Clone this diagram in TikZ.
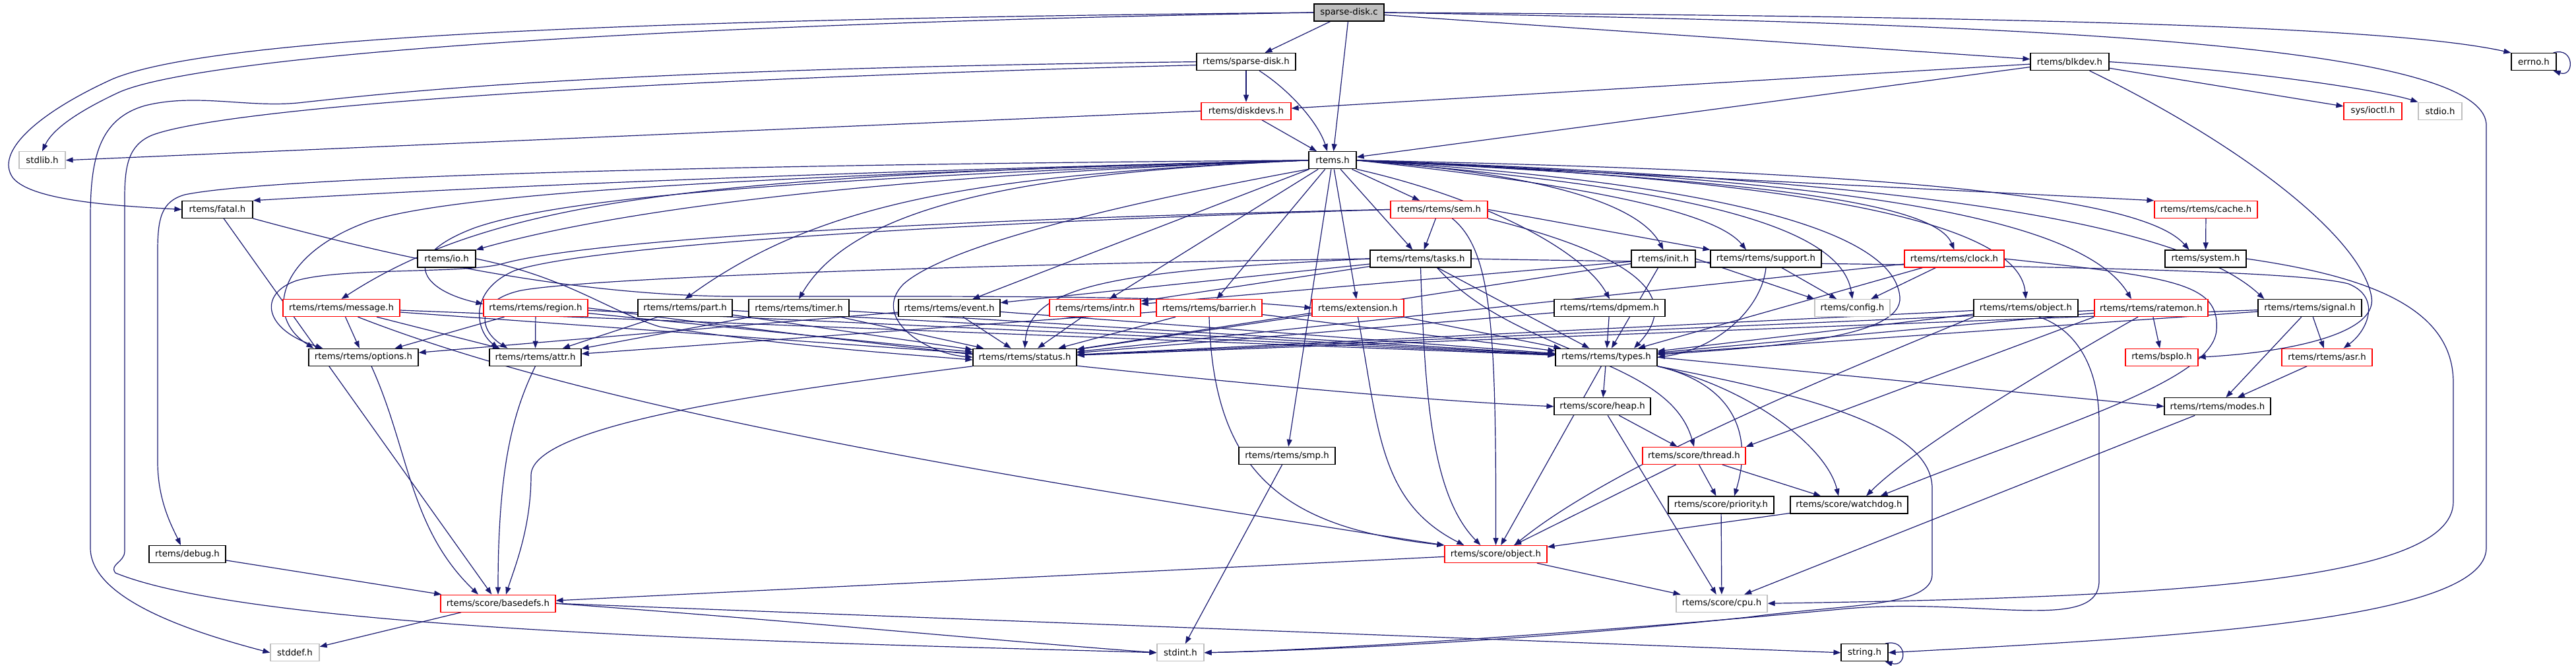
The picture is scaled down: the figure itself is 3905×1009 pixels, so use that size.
\documentclass[tikz,border=0pt]{standalone}
\usepackage{fontspec}
\setmainfont{DejaVu Sans}
\usetikzlibrary{arrows.meta}
\pgfdeclarelayer{background}
\pgfsetlayers{background,main}
\definecolor{edgecol}{HTML}{191970}
\definecolor{graybd}{HTML}{BFBFBF}
\begin{document}
\begin{tikzpicture}[x=1pt,y=-1pt,
  nbox/.style={draw=black, line width=1.2pt, fill=white, rectangle, minimum height=26pt, inner sep=0pt, font=\fontsize{13.3}{15}\selectfont},
  redbox/.style={nbox, draw=red},
  graybox/.style={nbox, draw=graybd},
  rootbox/.style={nbox, fill=graybd},
  edg/.style={draw=edgecol, line width=1.2pt, -{Triangle[length=11pt,width=8pt]}},
]
\useasboundingbox (0,0) rectangle (3905,1009);
% rank 0-4
\node[rootbox, minimum width=106pt] (c) at (2045,19) {sparse-disk.c};
\node[nbox, minimum width=150pt] (sdh) at (1889,93.6) {rtems/sparse-disk.h};
\node[nbox, minimum width=119pt] (blkdev) at (3137.5,93.6) {rtems/blkdev.h};
\node[nbox, minimum width=68pt] (errno) at (3841,93.6) {errno.h};
\node[redbox, minimum width=136pt] (diskdevs) at (1889,168.2) {rtems/diskdevs.h};
\node[redbox, minimum width=88pt] (ioctl) at (3597,168.2) {sys/ioctl.h};
\node[graybox, minimum width=66pt] (stdio) at (3699,168.2) {stdio.h};
\node[graybox, minimum width=70pt] (stdlib) at (64,242.8) {stdlib.h};
\node[nbox, minimum width=72pt] (rtems) at (2020,242.8) {rtems.h};
\node[nbox, minimum width=107pt] (fatal) at (329.5,317.4) {rtems/fatal.h};
\node[redbox, minimum width=147pt] (sem) at (2181.5,317.4) {rtems/rtems/sem.h};
\node[redbox, minimum width=156pt] (cache) at (3344,317.4) {rtems/rtems/cache.h};
% rank 5
\node[nbox, minimum width=88pt] (io) at (677,392) {rtems/io.h};
\node[nbox, minimum width=153pt] (tasks) at (2153.5,392) {rtems/rtems/tasks.h};
\node[nbox, minimum width=97pt] (init) at (2521.5,392) {rtems/init.h};
\node[nbox, minimum width=168pt] (support) at (2677,392) {rtems/rtems/support.h};
\node[redbox, minimum width=151pt] (clock) at (2962.5,392) {rtems/rtems/clock.h};
\node[nbox, minimum width=123pt] (system) at (3343.5,392) {rtems/system.h};
% rank 6
\node[redbox, minimum width=177pt] (message) at (517.5,466.6) {rtems/rtems/message.h};
\node[redbox, minimum width=158pt] (region) at (812,466.6) {rtems/rtems/region.h};
\node[nbox, minimum width=143pt] (part) at (1038.5,466.6) {rtems/rtems/part.h};
\node[nbox, minimum width=152pt] (timer) at (1211,466.6) {rtems/rtems/timer.h};
\node[nbox, minimum width=154pt] (event) at (1439,466.6) {rtems/rtems/event.h};
\node[redbox, minimum width=138pt] (intr) at (1660,466.6) {rtems/rtems/intr.h};
\node[redbox, minimum width=160pt] (barrier) at (1833,466.6) {rtems/rtems/barrier.h};
\node[redbox, minimum width=139pt] (extension) at (2058.5,466.6) {rtems/extension.h};
\node[nbox, minimum width=168pt] (dpmem) at (2440,466.6) {rtems/rtems/dpmem.h};
\node[graybox, minimum width=114pt] (config) at (2808,466.6) {rtems/config.h};
\node[nbox, minimum width=158pt] (robject) at (3071,466.6) {rtems/rtems/object.h};
\node[redbox, minimum width=172pt] (ratemon) at (3261,466.6) {rtems/rtems/ratemon.h};
\node[nbox, minimum width=157pt] (signal) at (3501.5,466.6) {rtems/rtems/signal.h};
% rank 7
\node[nbox, minimum width=166pt] (options) at (551,541.2) {rtems/rtems/options.h};
\node[nbox, minimum width=139pt] (attr) at (811.5,541.2) {rtems/rtems/attr.h};
\node[nbox, minimum width=157pt] (status) at (1553.5,541.2) {rtems/rtems/status.h};
\node[nbox, minimum width=154pt] (types) at (2435,541.2) {rtems/rtems/types.h};
\node[redbox, minimum width=110pt] (bspio) at (3277,541.2) {rtems/bspIo.h};
\node[redbox, minimum width=137pt] (asr) at (3527.5,541.2) {rtems/rtems/asr.h};
% rank 8-13
\node[nbox, minimum width=146pt] (heap) at (2429,615.8) {rtems/score/heap.h};
\node[nbox, minimum width=161pt] (modes) at (3361.5,615.8) {rtems/rtems/modes.h};
\node[nbox, minimum width=146pt] (smp) at (1951,690.4) {rtems/rtems/smp.h};
\node[redbox, minimum width=156pt] (thread) at (2568,690.4) {rtems/score/thread.h};
\node[nbox, minimum width=160pt] (priority) at (2609,765) {rtems/score/priority.h};
\node[nbox, minimum width=178pt] (watchdog) at (2803,765) {rtems/score/watchdog.h};
\node[nbox, minimum width=116pt] (debug) at (284,839.6) {rtems/debug.h};
\node[redbox, minimum width=155pt] (sobject) at (2267.5,839.6) {rtems/score/object.h};
\node[redbox, minimum width=174pt] (basedefs) at (755,914.2) {rtems/score/basedefs.h};
\node[graybox, minimum width=138pt] (cpu) at (2610,914.2) {rtems/score/cpu.h};
\node[graybox, minimum width=74pt] (stddef) at (447,988.8) {stddef.h};
\node[graybox, minimum width=71pt] (stdint) at (1789.5,988.8) {stdint.h};
\node[nbox, minimum width=71pt] (string) at (2826.5,988.8) {string.h};

\begin{pgfonlayer}{background}
% sparse-disk.c
\draw[edg] (c.west) .. controls (800,40) and (280,95) .. (180,140) .. controls (120,168) and (80,195) .. (stdlib.north);
\draw[edg] (c.west) .. controls (800,30) and (300,65) .. (170,120) .. controls (60,170) and (-10,230) .. (20,270) .. controls (50,305) and (180,312) .. (fatal.west);
\draw[edg] (c) -- (sdh);
\draw[edg] (c) -- (rtems);
\draw[edg] (c) -- (blkdev);
\draw[edg] (c.east) .. controls (3200,25) and (3650,45) .. (errno.north west);
\draw[edg] (c.east) .. controls (3000,35) and (3769,60) .. (3769,190) -- (3769,830) .. controls (3769,940) and (3300,965) .. (string.east);
% sparse-disk.h
\draw[edg] (sdh) -- (diskdevs);
\draw[edg] ([xshift=20pt]sdh.south) .. controls (1960,140) and (2000,190) .. ([xshift=-8pt]rtems.north);
\draw[edg] (sdh.west) .. controls (900,105) and (600,140) .. (460,155) .. controls (380,165) and (300,140) .. (220,160) .. controls (150,180) and (137,240) .. (137,330) -- (137,830) .. controls (137,910) and (300,960) .. (stddef.west);
\draw[edg] ([yshift=-5pt]sdh.west) .. controls (800,125) and (320,170) .. (230,205) .. controls (195,220) and (189,250) .. (189,300) -- (189,835) .. controls (189,852) and (165,855) .. (175,868) .. controls (400,960) and (1300,975) .. (stdint.west);
% blkdev
\draw[edg] (blkdev) -- (diskdevs);
\draw[edg] (blkdev) -- (rtems);
\draw[edg] (blkdev) -- (ioctl);
\draw[edg] (blkdev.east) .. controls (3450,110) and (3620,140) .. (stdio.north west);
\draw[edg] ([xshift=30pt]blkdev.south) .. controls (3400,220) and (3580,360) .. (3595,450) .. controls (3605,510) and (3450,535) .. (bspio.east);
% diskdevs
\draw[edg] (diskdevs) -- (rtems);
\draw[edg] (diskdevs.west) -- (stdlib.east);
% self loops
\draw[edg] ([xshift=-5pt]errno.north east) .. controls (3903,70) and (3903,118) .. ([xshift=-5pt]errno.south east);
\draw[edg] ([xshift=-5pt]string.north east) .. controls (2892,966) and (2892,1012) .. ([xshift=-5pt]string.south east);
% rtems.h
\draw[edg] (rtems.west) .. controls (1200,262) and (700,285) .. (fatal.north east);
\draw[edg] (rtems.west) .. controls (1000,250) and (400,270) .. (280,295) .. controls (245,305) and (239,330) .. (239,380) -- (239,700) .. controls (239,760) and (262,800) .. ([xshift=-10pt]debug.north);
\draw[edg] (rtems.west) .. controls (1500,260) and (1000,300) .. (io.north east);
\draw[edg] (rtems.west) .. controls (1100,265) and (760,295) .. (message.north);
\draw[edg] (rtems.west) .. controls (1200,270) and (850,300) .. (720,345) .. controls (600,390) and (640,440) .. ([yshift=6pt]region.west);
\draw[edg] (rtems.west) .. controls (1500,265) and (1250,300) .. (part.north);
\draw[edg] (rtems.west) .. controls (1600,260) and (1300,300) .. (timer.north);
\draw[edg] (rtems.west) .. controls (1200,265) and (700,290) .. (560,335) .. controls (420,385) and (400,480) .. ([xshift=8pt]options.north west);
\draw[edg] (rtems.south west) .. controls (1800,290) and (1450,360) .. (1370,430) .. controls (1320,480) and (1400,535) .. (status.west);
\draw[edg] (rtems) -- (event);
\draw[edg] (rtems) -- (intr);
\draw[edg] (rtems) -- (barrier);
\draw[edg] (rtems) -- (extension);
\draw[edg] (rtems) -- (smp);
\draw[edg] (rtems) -- (tasks);
\draw[edg] (rtems) -- (sem);
\draw[edg] (rtems.south east) .. controls (2250,300) and (2400,380) .. (dpmem.north);
\draw[edg] (rtems.east) .. controls (2300,260) and (2480,300) .. (init.north);
\draw[edg] (rtems.east) .. controls (2400,280) and (2600,320) .. ([xshift=-30pt]support.north);
\draw[edg] (rtems.east) .. controls (2500,280) and (2790,330) .. (config.north);
\draw[edg] (rtems.east) .. controls (2600,270) and (2930,300) .. (clock.north);
\draw[edg] (rtems.east) .. controls (2700,270) and (3060,330) .. (robject.north);
\draw[edg] (rtems.east) .. controls (2750,270) and (3150,320) .. ([xshift=-30pt]ratemon.north);
\draw[edg] (rtems.east) .. controls (2850,270) and (3300,330) .. ([xshift=10pt]signal.north west);
\draw[edg] (rtems.east) .. controls (2900,260) and (3250,300) .. ([xshift=-25pt]system.north);
\draw[edg] (rtems.east) -- (cache.north west);
\draw[edg] (rtems.east) .. controls (2500,270) and (2870,330) .. (2880,450) .. controls (2885,510) and (2700,525) .. ([yshift=4pt]types.east);
% fatal
\draw[edg] (fatal) -- (basedefs);
\draw[edg] (fatal.south east) .. controls (600,390) and (850,445) .. (1100,449) .. controls (1500,449) and (1800,447) .. (extension.west);
% sem
\draw[edg] (sem) -- (tasks);
\draw[edg] (sem.east) -- (support.north west);
\draw[edg] ([xshift=20pt]sem.south) .. controls (2262,380) and (2268,500) .. (sobject.north);
\draw[edg] (sem.south east) .. controls (2450,380) and (2560,440) .. ([xshift=42pt]types.north);
\draw[edg] (sem.west) .. controls (1500,330) and (900,360) .. (760,400) .. controls (700,415) and (520,405) .. (450,425) .. controls (390,445) and (400,500) .. ([xshift=22pt]options.north west);
\draw[edg] (sem.west) .. controls (1500,335) and (900,370) .. (780,410) .. controls (710,440) and (720,500) .. ([xshift=14pt]attr.north west);
% cache, io
\draw[edg] (cache) -- (system);
\draw[edg] (io.east) .. controls (860,420) and (920,470) .. (1000,495) .. controls (1200,525) and (1350,535) .. ([yshift=-4pt]status.west);
% tasks
\draw[edg] (tasks.west) .. controls (1500,400) and (900,420) .. (790,440) .. controls (720,455) and (725,500) .. ([xshift=28pt]attr.north west);
\draw[edg] (tasks) -- (event);
\draw[edg] (tasks) -- (intr);
\draw[edg] (tasks.west) .. controls (1700,410) and (1560,430) .. (status.north);
\draw[edg] (tasks) -- (types);
\draw[edg] (tasks.south) .. controls (2160,600) and (2170,750) .. ([xshift=55pt]sobject.north west);
\draw[edg] ([xshift=25pt]tasks.south) .. controls (2300,540) and (2530,540) .. (thread.north);
\draw[edg] (tasks.east) .. controls (2600,400) and (3450,400) .. (3560,430) .. controls (3610,450) and (3590,500) .. ([xshift=-44pt]asr.north east);
% init, support, clock, system
\draw[edg] (init) -- (intr);
\draw[edg] (init.east) -- (config.north west);
\draw[edg] (init) -- (types);
\draw[edg] (init) -- (status);
\draw[edg] (support) -- (config);
\draw[edg] (support.south) .. controls (2670,470) and (2600,530) .. (types.east);
\draw[edg] (clock) -- (config);
\draw[edg] (clock) -- (status);
\draw[edg] (clock) -- (types);
\draw[edg] (clock.east) .. controls (3300,420) and (3365,430) .. (3360,500) .. controls (3355,580) and (3100,650) .. ([xshift=-42pt]watchdog.north east);
\draw[edg] (system.east) .. controls (3600,420) and (3719,470) .. (3719,580) -- (3719,760) .. controls (3719,880) and (3300,905) .. (cpu.east);
% message, region, part, timer, event, intr
\draw[edg] (message) -- (options);
\draw[edg] (message) -- (attr);
\draw[edg] (message) -- (status);
\draw[edg] (message) -- (types);
\draw[edg] ([xshift=25pt]message.south) .. controls (900,620) and (1500,720) .. (sobject.north west);
\draw[edg] (region) -- (options);
\draw[edg] (region) -- (attr);
\draw[edg] (region) -- (status);
\draw[edg] (region) -- (types);
\draw[edg] (region.east) .. controls (1300,520) and (2000,600) .. (heap.west);
\draw[edg] (part) -- (attr);
\draw[edg] (part) -- (status);
\draw[edg] (part) -- (types);
\draw[edg] (timer) -- (attr);
\draw[edg] (timer) -- (status);
\draw[edg] (timer) -- (types);
\draw[edg] (event) -- (options);
\draw[edg] (event) -- (status);
\draw[edg] (event) -- (types);
\draw[edg] (intr) -- (status);
% barrier, extension, dpmem
\draw[edg] (barrier) -- (attr);
\draw[edg] (barrier) -- (status);
\draw[edg] (barrier) -- (types);
\draw[edg] (barrier.south) .. controls (1839,720) and (1950,800) .. (sobject.north west);
\draw[edg] (extension) -- (status);
\draw[edg] (extension) -- (types);
\draw[edg] (extension.south) .. controls (2090,650) and (2090,760) .. ([xshift=30pt]sobject.north west);
\draw[edg] (dpmem) -- (status);
\draw[edg] (dpmem) -- (types);
% object, ratemon, signal
\draw[edg] (robject) -- (status);
\draw[edg] (robject) -- (types);
\draw[edg] (robject.south west) .. controls (2800,560) and (2450,700) .. ([xshift=-50pt]sobject.north east);
\draw[edg] ([xshift=20pt]robject.south) .. controls (3150,500) and (3182,560) .. (3182,640) -- (3182,880) .. controls (3182,960) and (3000,905) .. (2800,922) .. controls (2400,960) and (2000,985) .. (stdint.east);
\draw[edg] (ratemon) -- (status);
\draw[edg] (ratemon) -- (types);
\draw[edg] (ratemon) -- (bspio);
\draw[edg] ([xshift=-20pt]ratemon.south) .. controls (3100,560) and (2900,680) .. ([xshift=26pt]watchdog.north);
\draw[edg] (ratemon.south west) -- (thread.north east);
\draw[edg] (signal) -- (asr);
\draw[edg] (signal) -- (modes);
\draw[edg] (signal) -- (status);
\draw[edg] (signal) -- (types);
% rank 7
\draw[edg] ([xshift=12pt]options.south) .. controls (620,680) and (620,800) .. ([xshift=-30pt]basedefs.north);
\draw[edg] (attr.south) .. controls (780,620) and (755,700) .. (basedefs.north);
\draw[edg] (status.south west) .. controls (1200,590) and (805,640) .. (805,720) .. controls (805,800) and (780,860) .. ([xshift=12pt]basedefs.north);
\draw[edg] (types) -- (heap);
\draw[edg] (types) -- (sobject);
\draw[edg] (types.south east) .. controls (2620,580) and (2660,650) .. ([xshift=20pt]priority.north);
\draw[edg] (types.south east) .. controls (2660,590) and (2770,680) .. ([xshift=-16pt]watchdog.north);
\draw[edg] (types.east) -- (modes.west);
\draw[edg] (types.south east) .. controls (2750,600) and (2929,650) .. (2929,740) -- (2929,870) .. controls (2929,920) and (2800,915) .. (2650,935) .. controls (2300,972) and (2000,985) .. (stdint.east);
\draw[edg] (asr) -- (modes);
% lower
\draw[edg] (modes) -- (cpu);
\draw[edg] (heap) -- (thread);
\draw[edg] (heap) -- (cpu);
\draw[edg] (smp) -- (stdint);
\draw[edg] (thread) -- (priority);
\draw[edg] (thread) -- (watchdog);
\draw[edg] (thread) -- (sobject);
\draw[edg] (priority) -- (cpu);
\draw[edg] (watchdog) -- (sobject);
\draw[edg] (debug) -- (basedefs);
\draw[edg] (sobject) -- (basedefs);
\draw[edg] (sobject) -- (cpu);
\draw[edg] (basedefs) -- (stddef);
\draw[edg] (basedefs.east) .. controls (1200,940) and (1500,970) .. (stdint.west);
\draw[edg] (basedefs.east) -- (string.west);
\end{pgfonlayer}
\end{tikzpicture}
\end{document}
